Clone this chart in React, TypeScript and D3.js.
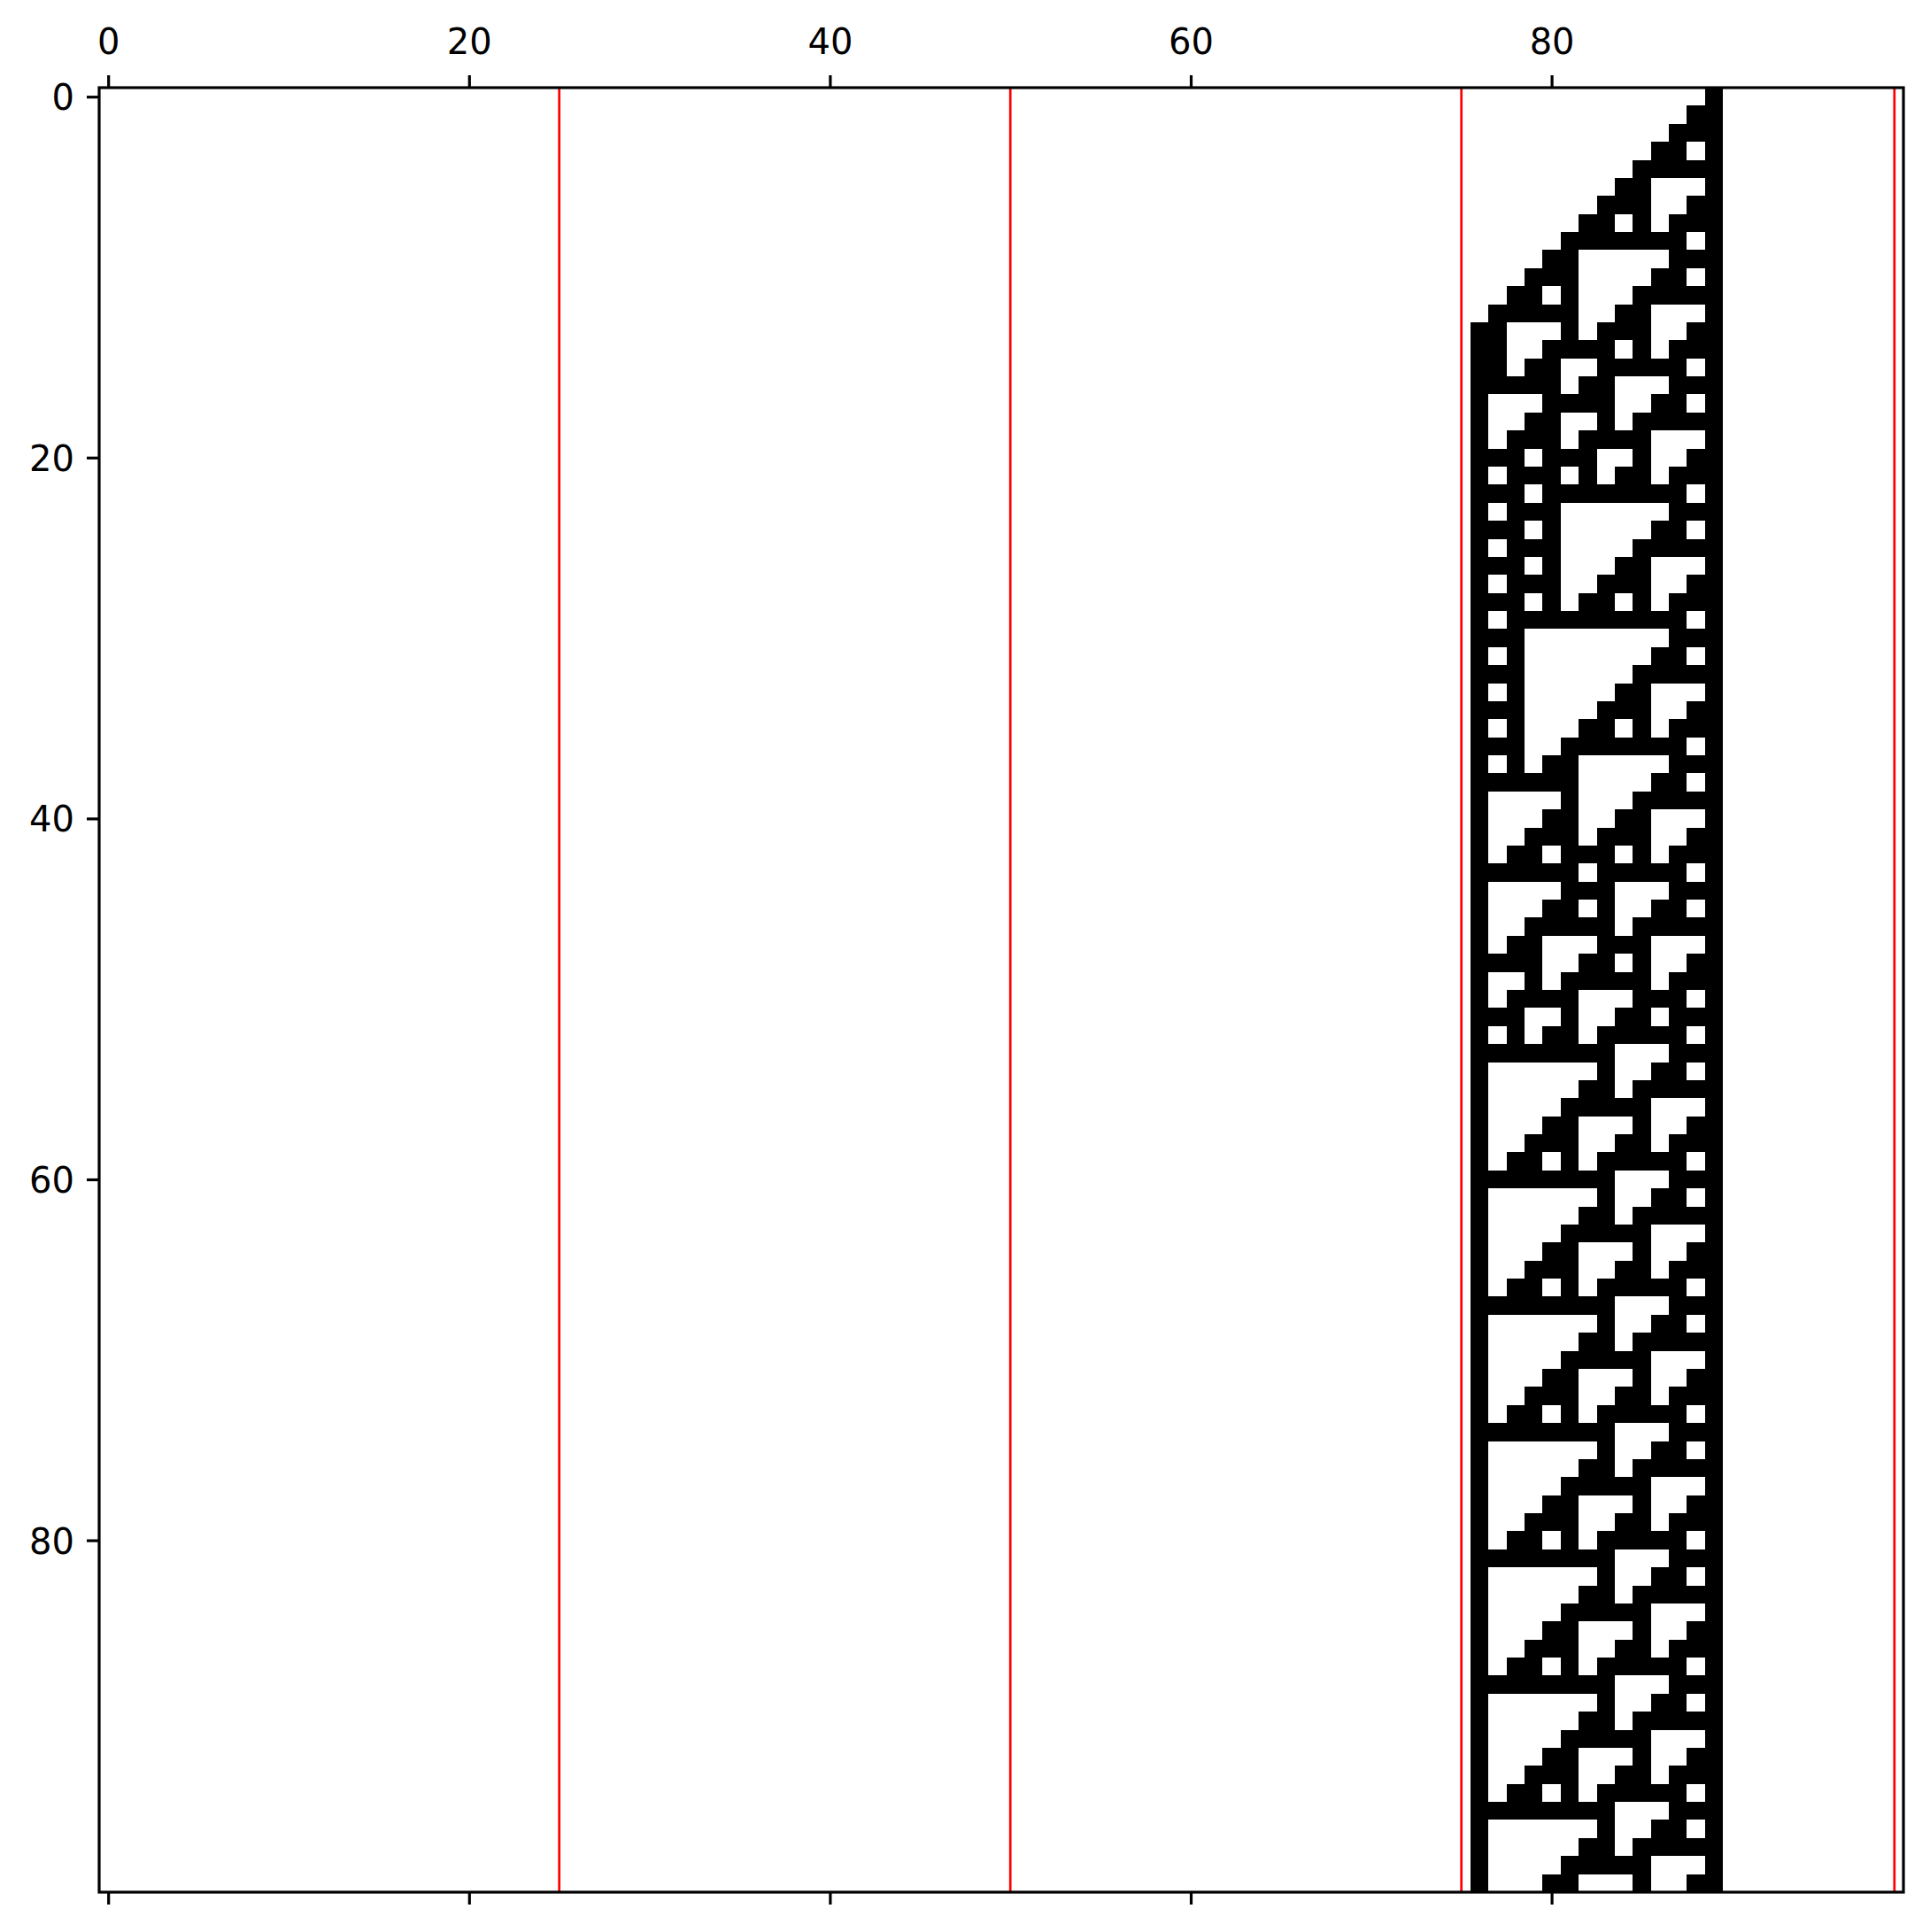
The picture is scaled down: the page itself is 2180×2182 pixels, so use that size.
import { useEffect, useRef } from 'react'
import * as d3 from 'd3'

// grid is 100 x 100; only columns 76..89 ever hold black cells
const nRows = 100
const nCols = 100
const firstCol = 76

// '#' = black cell, '.' = white, one string per row, columns 76..89
const rows: string[] = [
  '.............#',
  '............##',
  '...........###',
  '..........##.#',
  '.........#####',
  '........##...#',
  '.......###..##',
  '......##.#.###',
  '.....#######.#',
  '....##.....###',
  '...###....##.#',
  '..##.#...#####',
  '.#####..##...#',
  '##...#.###..##',
  '##..####.#.###',
  '##.##..#####.#',
  '#####.##...###',
  '#...####..##.#',
  '#..##..#.#####',
  '#.###.####...#',
  '###.###..#..##',
  '#.###.#.##.###',
  '###.########.#',
  '#.###......###',
  '###.#.....##.#',
  '#.###....#####',
  '###.#...##...#',
  '#.###..###..##',
  '###.#.##.#.###',
  '#.##########.#',
  '###........###',
  '#.#.......##.#',
  '###......#####',
  '#.#.....##...#',
  '###....###..##',
  '#.#...##.#.###',
  '###..#######.#',
  '#.#.##.....###',
  '######....##.#',
  '#....#...#####',
  '#...##..##...#',
  '#..###.###..##',
  '#.##.###.#.###',
  '######.#####.#',
  '#....###...###',
  '#...##.#..##.#',
  '#..#####.#####',
  '#.##...###...#',
  '####..##.#..##',
  '#..#.#####.###',
  '#.####...###.#',
  '###..#..##.###',
  '#.#.##.#####.#',
  '########...###',
  '#......#..##.#',
  '#.....##.#####',
  '#....#####...#',
  '#...##...#..##',
  '#..###..##.###',
  '#.##.#.#####.#',
  '########...###',
  '#......#..##.#',
  '#.....##.#####',
  '#....#####...#',
  '#...##...#..##',
  '#..###..##.###',
  '#.##.#.#####.#',
  '########...###',
  '#......#..##.#',
  '#.....##.#####',
  '#....#####...#',
  '#...##...#..##',
  '#..###..##.###',
  '#.##.#.#####.#',
  '########...###',
  '#......#..##.#',
  '#.....##.#####',
  '#....#####...#',
  '#...##...#..##',
  '#..###..##.###',
  '#.##.#.#####.#',
  '########...###',
  '#......#..##.#',
  '#.....##.#####',
  '#....#####...#',
  '#...##...#..##',
  '#..###..##.###',
  '#.##.#.#####.#',
  '########...###',
  '#......#..##.#',
  '#.....##.#####',
  '#....#####...#',
  '#...##...#..##',
  '#..###..##.###',
  '#.##.#.#####.#',
  '########...###',
  '#......#..##.#',
  '#.....##.#####',
  '#....#####...#',
  '#...##...#..##',
]

const redLines = [25, 50, 75, 99]
const xTicks = [0, 20, 40, 60, 80]
const yTicks = [0, 20, 40, 60, 80]

const W = 2180
const H = 2182
const FONT = '"DejaVu Sans", sans-serif'

export default function App() {
  const ref = useRef<SVGSVGElement>(null)

  useEffect(() => {
    const svg = d3.select(ref.current)
    svg.selectAll('*').remove()

    const x = d3.scaleLinear().domain([-0.5, nCols - 0.5]).range([112, 2150])
    const y = d3.scaleLinear().domain([-0.5, nRows - 0.5]).range([99, 2137])

    svg.append('rect').attr('width', W).attr('height', H).attr('fill', '#fff')

    const cells = rows.flatMap((s, r) =>
      [...s].map((ch, i) => ({ r, c: firstCol + i, on: ch === '#' })).filter(d => d.on))

    svg.append('g')
      .attr('shape-rendering', 'crispEdges')
      .selectAll('rect')
      .data(cells)
      .enter()
      .append('rect')
      .attr('x', d => x(d.c - 0.5))
      .attr('y', d => y(d.r - 0.5))
      .attr('width', d => x(d.c + 0.5) - x(d.c - 0.5))
      .attr('height', d => y(d.r + 0.5) - y(d.r - 0.5))
      .attr('fill', '#000')

    // vertical red markers
    svg.append('g')
      .selectAll('line')
      .data(redLines)
      .enter()
      .append('line')
      .attr('x1', d => x(d)).attr('x2', d => x(d))
      .attr('y1', y(-0.5)).attr('y2', y(nRows - 0.5))
      .attr('stroke', '#ff0000')
      .attr('stroke-width', 2.7)

    // frame
    svg.append('rect')
      .attr('x', x(-0.5)).attr('y', y(-0.5))
      .attr('width', x(nCols - 0.5) - x(-0.5))
      .attr('height', y(nRows - 0.5) - y(-0.5))
      .attr('fill', 'none')
      .attr('stroke', '#000')
      .attr('stroke-width', 3.2)

    const styleAxis = (g: any) => {
      g.select('.domain').remove()
      g.selectAll('line').attr('stroke', '#000').attr('stroke-width', 3.2)
      g.selectAll('text').attr('fill', '#000').style('font-family', FONT).style('font-size', '40px')
    }

    svg.append('g')
      .attr('transform', `translate(0,${y(-0.5)})`)
      .call(d3.axisTop(x).tickValues(xTicks).tickSize(14).tickPadding(24).tickFormat(d3.format('d')))
      .call(styleAxis)

    svg.append('g')
      .attr('transform', `translate(0,${y(nRows - 0.5)})`)
      .call(d3.axisBottom(x).tickValues(xTicks).tickSize(14).tickFormat(() => ''))
      .call(styleAxis)

    svg.append('g')
      .attr('transform', `translate(${x(-0.5)},0)`)
      .call(d3.axisLeft(y).tickValues(yTicks).tickSize(14).tickPadding(14).tickFormat(d3.format('d')))
      .call(styleAxis)
      .selectAll('text')
      .attr('dy', '0.364em')
  }, [])

  return (
    <svg
      ref={ref}
      width={W}
      height={H}
      style={{ position: 'absolute', left: 0, top: 0, display: 'block' }}
    />
  )
}
